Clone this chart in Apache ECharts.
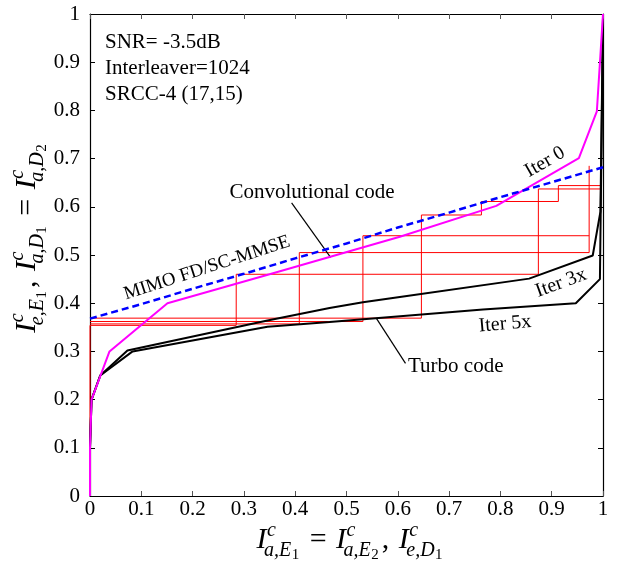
<!DOCTYPE html>
<html><head><meta charset="utf-8">
<script src="https://cdn.jsdelivr.net/npm/echarts@6/dist/echarts.min.js"></script>
<style>html,body{margin:0;padding:0;background:#fff}#c{width:622px;height:562px}</style>
</head><body><div id="c"></div>
<script>
// ---- data ----
const tickLabels = ['0','0.1','0.2','0.3','0.4','0.5','0.6','0.7','0.8','0.9','1'];

const mimoCurve = [[0,0.368],[0.1,0.398],[0.2,0.43],[0.3,0.461],[0.4,0.493],[0.5,0.524],[0.6,0.557],[0.7,0.588],[0.8,0.62],[0.9,0.651],[1,0.682]];
const convCurve = [[0,0],[0,0.1],[0.003,0.2],[0.038,0.3],[0.151,0.4],[0.35,0.46],[0.604,0.538],[0.792,0.602],[0.953,0.701],[0.988,0.798],[1,1]];
const turbo3x = [[0,0.1],[0.003,0.2],[0.02,0.25],[0.073,0.302],[0.346,0.364],[0.467,0.39],[0.532,0.402],[0.604,0.413],[0.856,0.451],[0.98,0.499],[0.995,0.59],[1,0.99]];
const turbo5x = [[0,0.1],[0.003,0.2],[0.02,0.25],[0.083,0.3],[0.346,0.351],[0.467,0.361],[0.766,0.387],[0.947,0.4],[0.994,0.45],[1,0.99]];

const trajA = [[0,0],[0,0.354],[0.285,0.354],[0.285,0.46],[0.874,0.46],[0.874,0.637],[0.997,0.637],[0.997,0.67]];
const trajB = [[0,0.357],[0.408,0.357],[0.408,0.505],[0.973,0.505],[0.973,0.685]];
const trajC = [[0,0.362],[0.532,0.362],[0.532,0.54],[0.973,0.54]];
const trajD = [[0,0.369],[0.646,0.369],[0.646,0.583],[0.763,0.583],[0.763,0.611],[0.913,0.611],[0.913,0.644],[0.997,0.644],[0.997,0.67]];

const convLeader = [[0.393,0.608],[0.469,0.495]];
const turboLeader = [[0.558,0.369],[0.615,0.275]];

const infoLines = ['SNR= -3.5dB','Interleaver=1024','SRCC-4 (17,15)'];
const xTitleTerms = [{b:'I',sup:'c',sub:'a,E',ss:'1'},{op:' = '},{b:'I',sup:'c',sub:'a,E',ss:'2'},{op:', '},{b:'I',sup:'c',sub:'e,D',ss:'1'}];
const yTitleTerms = [{b:'I',sup:'c',sub:'e,E',ss:'1'},{op:', '},{b:'I',sup:'c',sub:'a,D',ss:'1'},{op:' = '},{b:'I',sup:'c',sub:'a,D',ss:'2'}];

// ---- helpers ----
const FONT = '"Liberation Serif", "Times New Roman", serif';
const mctx = document.createElement('canvas').getContext('2d');
function tw(s, size, italic){ mctx.font = (italic?'italic ':'') + size + 'px "Liberation Serif"'; return mctx.measureText(s).width; }
function txt(s, x, baseline, size, italic){
  return {type:'text', x:x, y:baseline - 0.32*size,
    style:{text:s, fontFamily:FONT, fontSize:size, fontStyle: italic?'italic':'normal', fill:'#000', align:'left', verticalAlign:'middle'}};
}
function buildMath(terms, F){
  const f1 = Math.round(F*0.66), f2 = Math.round(F*0.5);
  const kids = []; let x = 0;
  terms.forEach(t=>{
    if (t.op){ kids.push(txt(t.op, x + 2, 0, F, false)); x += tw(t.op, F, false) + 4; return; }
    const wI = tw(t.b, F, true);
    kids.push(txt(t.b, x, 0, F, true));
    const wsup = tw(t.sup, f1, true);
    kids.push(txt(t.sup, x + wI + 0.5, -0.42*F, f1, true));
    const sx = x + wI - 2.5;
    const wsub = tw(t.sub, f1, true);
    kids.push(txt(t.sub, sx, 0.24*F, f1, true));
    kids.push(txt(t.ss, sx + wsub + 0.5, 0.24*F + 0.1*F, f2, false));
    x = Math.max(x + wI + 0.5 + wsup, sx + wsub + 0.5 + tw(t.ss, f2, false)) + 1;
  });
  return {kids:kids, width:x};
}

const chart = echarts.init(document.getElementById('c'), null, {renderer:'canvas'});
const lineS = (data, color, width, type, z) => ({type:'line', data:data, showSymbol:false, symbol:'none', silent:true,
  lineStyle:{color:color, width:width, type:type||'solid'}, z:z||2, animation:false, clip:false});

const axisBase = (tickColor) => ({type:'value', min:0, max:1, interval:0.1, splitLine:{show:false},
  axisLine:{show:true, onZero:false, lineStyle:{color:'#000', width:1.2}},
  axisTick:{show:true, inside:true, length:5, lineStyle:{color:tickColor, width:1}}});
const lbl = {fontFamily:FONT, fontSize:21, color:'#000', formatter:v=>tickLabels[Math.round(v*10)]};

const xm = buildMath(xTitleTerms, 30);
const ym = buildMath(yTitleTerms, 30);
const ann = (s, x, y, rot, align, size) => ({type:'text', x:x, y:y, rotation:(rot||0)*Math.PI/180,
  style:{text:s, fontFamily:FONT, fontSize:size||21, fill:'#000', align:align||'center', verticalAlign:'middle'}});

chart.setOption({
  backgroundColor:'#fff',
  animation:false,
  grid:{left:90, right:19, top:14, bottom:66, containLabel:false},
  xAxis:[
    Object.assign({}, axisBase('#555'), {position:'bottom', axisLabel:Object.assign({margin:3}, lbl)}),
    Object.assign({}, axisBase('#555'), {position:'top', axisLabel:{show:false}})
  ],
  yAxis:[
    Object.assign({}, axisBase('#000'), {position:'left', axisLabel:Object.assign({margin:10}, lbl)}),
    Object.assign({}, axisBase('#000'), {position:'right', axisLabel:{show:false}})
  ],
  series:[
    lineS(trajA,'#ff0000',1),
    lineS(trajB,'#ff0000',1),
    lineS(trajC,'#ff0000',1),
    lineS(trajD,'#ff0000',1),
    lineS(turbo3x,'#000',2,'solid',3),
    lineS(turbo5x,'#000',2,'solid',3),
    lineS(convCurve,'#ff00ff',2,'solid',4),
    lineS(mimoCurve,'#0000ff',2.5,[7,4],5),
    lineS(convLeader,'#000',1.2,'solid',3),
    lineS(turboLeader,'#000',1.2,'solid',3)
  ],
  graphic:[
    ann(infoLines[0], 105, 42.7, 0, 'left'),
    ann(infoLines[1], 105, 68.3, 0, 'left'),
    ann(infoLines[2], 105, 94.3, 0, 'left'),
    ann('Convolutional code', 312, 192),
    ann('Turbo code', 408, 366, 0, 'left'),
    ann('MIMO FD/SC-MMSE', 207, 268, 18, 'center', 19),
    ann('Iter 0', 545, 162, 30, 'center', 20),
    ann('Iter 3x', 561, 283, 20, 'center', 20),
    ann('Iter 5x', 505, 324, 5, 'center', 20),
    {type:'group', x:350 - xm.width/2, y:550, children:xm.kids},
    {type:'group', x:37, y:238 + ym.width/2, rotation:Math.PI/2, children:ym.kids}
  ]
});
</script>
</body></html>
